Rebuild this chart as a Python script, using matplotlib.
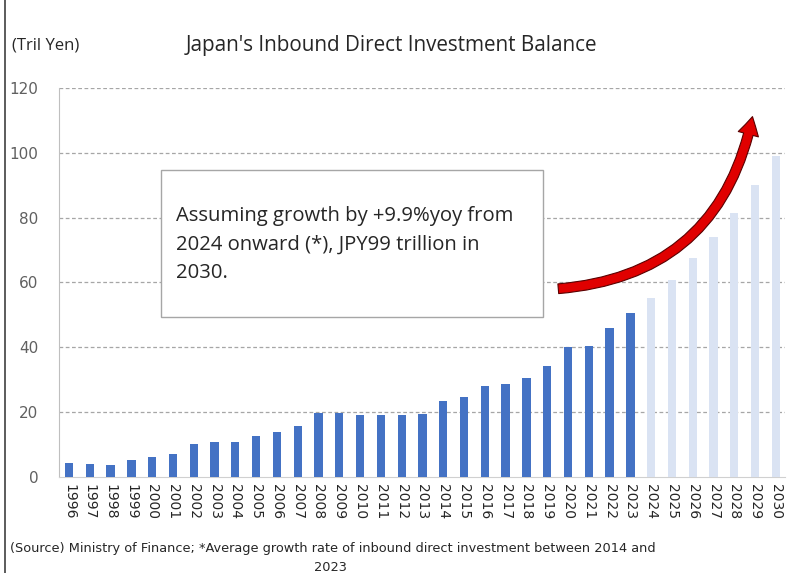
import matplotlib
matplotlib.use("Agg")
import matplotlib.pyplot as plt
from matplotlib.patches import FancyArrowPatch, Rectangle
from matplotlib.lines import Line2D

years = [str(y) for y in range(1996, 2031)]
actual = [4.4, 3.9, 3.6, 5.4, 6.2, 7.2, 10.2, 10.7, 10.8, 12.5, 13.8, 15.8,
          19.7, 19.7, 19.0, 19.1, 19.2, 19.5, 23.6, 24.6, 28.0, 28.7, 30.6,
          34.2, 40.0, 40.5, 46.0, 50.5]
projected = [55.2, 60.7, 67.4, 74.1, 81.5, 90.0, 99.0]
y_ticks = [0, 20, 40, 60, 80, 100, 120]

title = "Japan's Inbound Direct Investment Balance"
unit_label = "(Tril Yen)"
note = "Assuming growth by +9.9%yoy from\n2024 onward (*), JPY99 trillion in\n2030."
source = ("(Source) Ministry of Finance; *Average growth rate of inbound "
          "direct investment between 2014 and")
source_cont = "2023"

fig = plt.figure(figsize=(7.87, 5.73), dpi=100)
ax = fig.add_axes([0.075, 0.1675, 0.922, 0.679])

n_act = len(actual)
x_act = list(range(n_act))
x_proj = list(range(n_act, n_act + len(projected)))
ax.bar(x_act, actual, width=0.4, color="#4472C4", zorder=3)
ax.bar(x_proj, projected, width=0.4, color="#DAE3F3", zorder=3)

ax.set_xlim(-0.48, 34.42)
ax.set_ylim(0, 120)
ax.set_yticks(y_ticks)
ax.set_xticks(range(len(years)))
ax.set_xticklabels(years, rotation=-90, fontsize=10, color="#262626")
ax.tick_params(axis="x", length=0, pad=5)
ax.tick_params(axis="y", length=0, pad=15, labelsize=11, labelcolor="#606060")

for t in y_ticks[1:]:
    ax.axhline(t, color="#A6A6A6", lw=0.9, ls=(0, (3, 2)), zorder=1)

for side in ["top", "right"]:
    ax.spines[side].set_visible(False)
ax.spines["left"].set_color("#BFBFBF")
ax.spines["bottom"].set_color("#D0D0D0")

# annotation box
ax.add_patch(Rectangle((0.1405, 0.411), 0.526, 0.378, transform=ax.transAxes,
                       facecolor="white", edgecolor="#A6A6A6", lw=1.0, zorder=4))
ax.text(0.161, 0.598, note, transform=ax.transAxes, fontsize=14.6,
        family="Open Sans", color="#262626", va="center", ha="left",
        linespacing=1.58, zorder=5)

# growth arrow
arrow = FancyArrowPatch((23.4, 58), (32.9, 112),
                        connectionstyle="arc3,rad=0.38",
                        arrowstyle="simple,head_width=1.5,head_length=1.3,tail_width=0.7",
                        mutation_scale=10, facecolor="#E00000",
                        edgecolor="#5A0000", lw=0.8, zorder=6)
ax.add_patch(arrow)

fig.text(0.497, 0.921, title, ha="center", va="center", fontsize=14.9,
         family="Open Sans", color="#262626")
fig.text(0.015, 0.921, unit_label, ha="left", va="center", fontsize=12,
         family="Open Sans", color="#262626")
fig.text(0.013, 0.043, source, ha="left", va="center", fontsize=9.25,
         family="Liberation Sans Narrow", color="#262626")
fig.text(0.42, 0.01, source_cont, ha="center", va="center", fontsize=9.25,
         family="Liberation Sans Narrow", color="#262626")

fig.add_artist(Line2D([0.0065, 0.0065], [0, 1], transform=fig.transFigure,
                      color="#404040", lw=1.2))

fig.savefig("out.png", dpi=100)
